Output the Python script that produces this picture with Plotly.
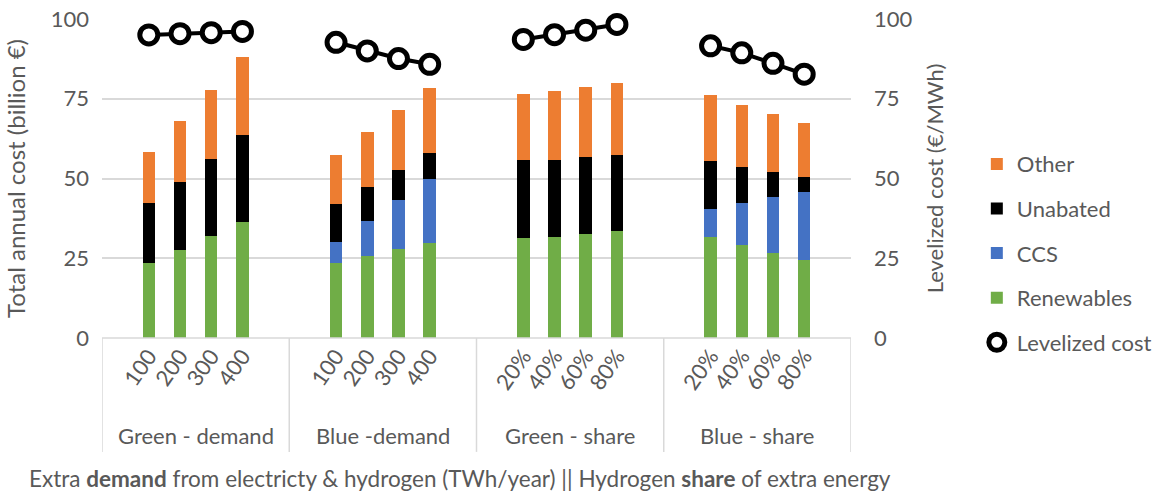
import plotly.graph_objects as go

# Scenario groups and the values swept inside each group
groups = ["Green - demand", "Blue -demand", "Green - share", "Blue - share"]
steps = [
    ["100", "200", "300", "400"],
    ["100", "200", "300", "400"],
    ["20%", "40%", "60%", "80%"],
    ["20%", "40%", "60%", "80%"],
]

# Total annual cost components (billion €), one list per group
renewables = [[23.5, 27.6, 32.0, 36.5], [23.4, 25.6, 27.8, 29.9],
              [31.4, 31.6, 32.5, 33.4], [31.6, 29.1, 26.7, 24.4]]
ccs = [[0, 0, 0, 0], [6.6, 11.0, 15.4, 19.8],
       [0, 0, 0, 0], [8.8, 13.2, 17.5, 21.3]]
unabated = [[18.7, 21.4, 24.2, 27.1], [12.1, 10.6, 9.4, 8.4],
            [24.4, 24.3, 24.2, 24.0], [15.2, 11.4, 7.8, 4.8]]
other = [[16.2, 19.1, 21.7, 24.4], [15.4, 17.3, 18.8, 20.4],
         [20.8, 21.5, 22.0, 22.5], [20.6, 19.2, 18.1, 16.8]]

# Levelized cost (€/MWh)
levelized = [[95.0, 95.4, 95.7, 96.1], [92.7, 90.0, 87.6, 85.8],
             [93.6, 95.1, 96.5, 98.3], [91.6, 89.4, 86.1, 82.7]]

SLOTS = 6  # each group: blank slot, four bars, blank slot
FONT = "Lato"
GREY = "#595959"

x_pos, x_txt = [], []
for g, labels in enumerate(steps):
    for i, lab in enumerate(labels):
        x_pos.append(g * SLOTS + 1 + i)
        x_txt.append(lab)


def flat(rows):
    return [v for row in rows for v in row]


fig = go.Figure()

series = [("Renewables", renewables, "#70AD47", 4),
          ("CCS", ccs, "#4472C4", 3),
          ("Unabated", unabated, "#000000", 2),
          ("Other", other, "#ED7D31", 1)]
for name, vals, color, rank in series:
    fig.add_trace(go.Bar(
        x=x_pos, y=flat(vals), name=name, width=0.4,
        marker=dict(color=color, line=dict(width=0)),
        legendrank=rank, legendgroup=name,
    ))

# Levelized cost line, broken between groups
lx, ly = [], []
for g, row in enumerate(levelized):
    for i, v in enumerate(row):
        lx.append(g * SLOTS + 1 + i)
        ly.append(v)
    lx.append(None)
    ly.append(None)

fig.add_trace(go.Scatter(
    x=lx, y=ly, yaxis="y2", mode="lines", connectgaps=False, cliponaxis=False,
    line=dict(color="black", width=4), showlegend=False, hoverinfo="skip",
))
fig.add_trace(go.Scatter(
    x=lx, y=ly, yaxis="y2", mode="markers", name="Levelized cost", cliponaxis=False,
    marker=dict(symbol="circle", size=18, color="white",
                line=dict(color="black", width=5)),
    legendrank=5, legendgroup="lev",
))

axis_font = dict(family=FONT, size=22, color=GREY)

fig.update_layout(
    width=1157, height=493,
    margin=dict(l=102, r=306, t=19, b=155, autoexpand=False),
    plot_bgcolor="white", paper_bgcolor="white",
    barmode="stack", bargap=0,
    font=dict(family=FONT, color=GREY),
    xaxis=dict(
        range=[-0.5, SLOTS * len(groups) - 0.5],
        tickmode="array", tickvals=x_pos, ticktext=x_txt,
        tickangle=-55, tickfont=axis_font, ticks="",
        showgrid=False, zeroline=False,
        showline=False,
    ),
    yaxis=dict(
        range=[0, 100], tickvals=[0, 25, 50, 75, 100],
        tickfont=axis_font, showgrid=True, gridcolor="#D9D9D9", gridwidth=1.5,
        zeroline=False, showline=False, ticks="", ticklabelstandoff=12,
        title=dict(text="Total annual cost (billion €)", font=dict(family=FONT, size=24, color=GREY),
                   standoff=18),
    ),
    yaxis2=dict(
        range=[0, 100], tickvals=[0, 25, 50, 75, 100], overlaying="y", side="right",
        tickfont=axis_font, showgrid=False, zeroline=False, showline=False, ticks="",
        ticklabelstandoff=22,
        title=dict(text="Levelized cost (€/MWh)", font=dict(family=FONT, size=22, color=GREY),
                   standoff=16),
    ),
    legend=dict(
        x=1.168, xanchor="left", y=0.611, yanchor="top",
        font=dict(family=FONT, size=22, color=GREY),
        traceorder="grouped", tracegroupgap=13, itemwidth=30,
        bgcolor="rgba(0,0,0,0)",
    ),
    showlegend=True,
)

# Category axis frame: baseline and group dividers
fig.add_shape(type="line", xref="paper", yref="paper", x0=0, x1=1, y0=0, y1=0,
              line=dict(color="#D9D9D9", width=1.5))
for g in range(len(groups) + 1):
    xd = g * SLOTS - 0.5
    fig.add_shape(type="line", xref="x", yref="paper", x0=xd, x1=xd, y0=0, y1=-0.357,
                  line=dict(color="#D9D9D9", width=1.5))

for g, name in enumerate(groups):
    fig.add_annotation(x=g * SLOTS + (SLOTS - 1) / 2, y=-0.307, xref="x", yref="paper",
                       text=name, showarrow=False, yanchor="middle",
                       font=dict(family=FONT, size=22, color=GREY))

# Footer title, placed in paper coordinates
fig.add_annotation(
    x=(460 - 102) / 749, y=(338 - 478) / 319, xref="paper", yref="paper", showarrow=False,
    text="Extra <b>demand</b> from electricty &amp; hydrogen (TWh/year) || Hydrogen <b>share</b> of extra energy",
    font=dict(family=FONT, size=22.5, color=GREY), yanchor="middle",
)

fig.write_html("out.html")
